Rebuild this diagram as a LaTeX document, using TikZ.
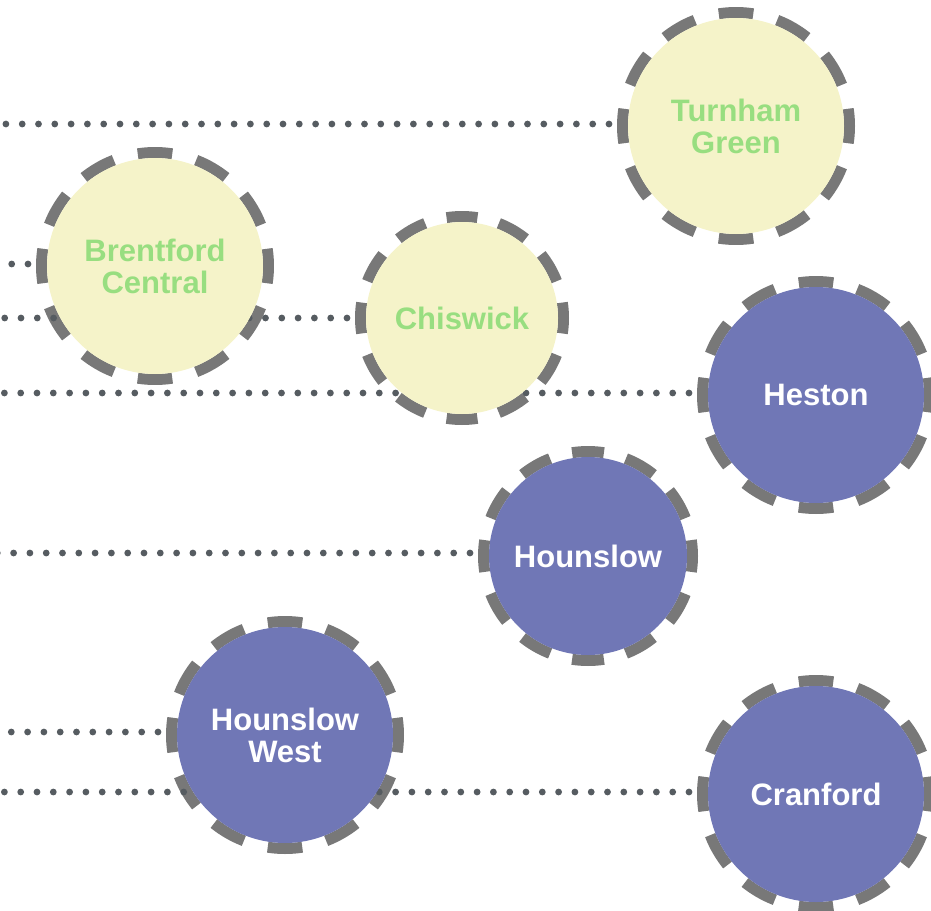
\documentclass[tikz,border=0pt]{standalone}
\usepackage{fontspec}
\setmainfont{Liberation Sans}
\pgfdeclarelayer{bg}
\pgfdeclarelayer{fg}
\pgfsetlayers{bg,main,fg}
\definecolor{yfill}{RGB}{245,243,201}
\definecolor{gtext}{RGB}{152,222,128}
\definecolor{pfill}{RGB}{112,119,182}
\definecolor{ringc}{RGB}{120,120,120}
\definecolor{dotc}{RGB}{86,92,97}
\newcommand\stnring[2]{%
  \foreach \a in {0,30,...,330}{%
    \draw[ringline] ([shift={(\a-8.75:#2+5.5)}]#1.center) arc[start angle=\a-8.75,delta angle=17.5,radius=#2+5.5];
  }}
\begin{document}
\begin{tikzpicture}[x=1pt,y=-1pt,
  station/.style={circle,inner sep=0pt,outer sep=0pt,minimum size=2*#1,align=center,
    font=\fontsize{31}{32}\selectfont\bfseries},
  yst/.style={station=#1,fill=yfill,text=gtext},
  pst/.style={station=#1,fill=pfill,text=white},
  ringline/.style={draw=ringc,line width=11pt},
  rail/.style={draw=dotc,line width=6.8pt,line cap=round,dash pattern=on 0pt off 16.3pt}]
\useasboundingbox (0,0) rectangle (931,910);
\begin{pgfonlayer}{fg}
\node[yst=108] (tg) at (736,126) {Turnham\\Green};
\node[yst=108] (bc) at (155,266) {Brentford\\Central};
\node[yst=96]  (ch) at (462,318) {Chiswick};
\node[pst=108] (he) at (816,395) {Heston};
\node[pst=99]  (ho) at (588,556) {Hounslow};
\node[pst=108] (hw) at (285,735) {Hounslow\\West};
\node[pst=108] (cr) at (816,794) {Cranford};
\end{pgfonlayer}
\begin{pgfonlayer}{bg}
\stnring{tg}{108}
\stnring{bc}{108}
\stnring{ch}{96}
\stnring{he}{108}
\stnring{ho}{99}
\stnring{hw}{108}
\stnring{cr}{108}
\end{pgfonlayer}
\coordinate (tgL) at (-10,124);
\coordinate (bcL) at (-10,264);
\coordinate (chL) at (-10,318);
\coordinate (heL) at (-10,393);
\coordinate (hoL) at (-10,553);
\coordinate (hwL) at (-10,732);
\coordinate (crL) at (-10,792);
\foreach \n in {tg,bc,ch,he,ho,hw,cr}{
  \path (\n.west) ++(-19,0) coordinate (\n E);
  \draw[rail] (\n E |- \n L) -- (\n L);
}
\end{tikzpicture}
\end{document}
